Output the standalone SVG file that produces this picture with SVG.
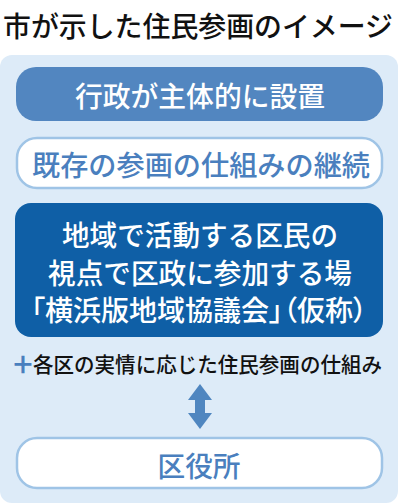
<svg xmlns="http://www.w3.org/2000/svg" width="400" height="504" viewBox="0 0 400 504">
<style>
text{font-family:"Noto Sans CJK JP","Noto Sans CJK SC",sans-serif;font-weight:500;text-anchor:middle;dominant-baseline:central}
.w{fill:#ffffff}
.b{fill:#4a7fbe}
.k{fill:#111111}
.outline{fill:#ffffff;stroke:#9fc4e6;stroke-width:2.5}
</style>
<rect width="400" height="504" fill="#ffffff"/>
<text x="198" y="25" class="k" font-size="28" font-weight="700" textLength="390" lengthAdjust="spacingAndGlyphs">市が示した住民参画のイメージ</text>
<rect x="0" y="55" width="398" height="448" rx="12" fill="#ddebf8"/>
<g id="node-gyosei">
<rect x="16" y="67" width="367" height="54" rx="20" fill="#5286c0"/>
<text x="200" y="95" class="w" font-size="28" textLength="250" lengthAdjust="spacingAndGlyphs">行政が主体的に設置</text>
</g>
<g id="node-kison">
<rect x="17" y="138" width="365" height="50" rx="20" class="outline"/>
<text x="201" y="164" class="b" font-size="28" textLength="338" lengthAdjust="spacingAndGlyphs">既存の参画の仕組みの継続</text>
</g>
<g id="node-kyogikai">
<rect x="15" y="203" width="368" height="134" rx="16" fill="#0f5fa6"/>
<text x="200" y="234" class="w" font-size="28" textLength="276" lengthAdjust="spacingAndGlyphs">地域で活動する区民の</text>
<text x="200" y="272" class="w" font-size="28" textLength="304" lengthAdjust="spacingAndGlyphs">視点で区政に参加する場</text>
<text x="199" y="309" class="w" font-size="28" style="font-feature-settings:'palt'">「横浜版地域協議会」（仮称）</text>
</g>
<g id="label-plus">
<text x="23" y="362" class="b" font-size="34" font-weight="400">+</text>
<text x="207.5" y="363" class="k" font-size="21" textLength="349" lengthAdjust="spacingAndGlyphs">各区の実情に応じた住民参画の仕組み</text>
</g>
<g id="connectors">
<path d="M200 384 L212 400 L205 400 L205 413 L212 413 L200 429 L188 413 L195 413 L195 400 L188 400 Z" fill="#4f86c0"/>
</g>
<g id="node-kuyakusho">
<rect x="17" y="438" width="365" height="50" rx="20" class="outline"/>
<text x="199" y="465" class="b" font-size="28" textLength="83" lengthAdjust="spacingAndGlyphs">区役所</text>
</g>
</svg>
